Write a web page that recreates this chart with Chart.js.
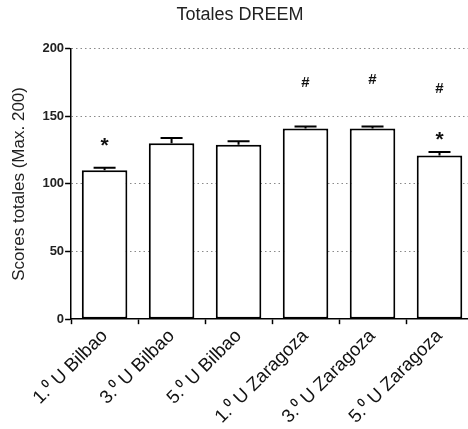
<!DOCTYPE html>
<html>
<head>
<meta charset="utf-8">
<script src="https://cdn.jsdelivr.net/npm/chart.js@4.4.1/dist/chart.umd.min.js"></script>
<style>
  html, body { margin: 0; padding: 0; background: #fff; overflow: hidden; }
  #wrap { width: 476px; height: 429px; }
</style>
</head>
<body>
<div id="wrap"><canvas id="chart"></canvas></div>
<script>
// datos del gráfico
const categories = ['1.\u2070 U Bilbao', '3.\u2070 U Bilbao', '5.\u2070 U Bilbao',
  '1.\u2070 U Zaragoza', '3.\u2070 U Zaragoza', '5.\u2070 U Zaragoza'];
const totals = [110, 130, 129, 141, 141, 121];
const errors = [2, 4, 2.5, 1.5, 1.5, 2.5];
const yTicks = [0, 50, 100, 150, 200];

// marcas de significación (* y #)
const markIndex = [0, 3, 4, 5, 5];
const markText = ['*', '#', '#', '#', '*'];
const markValue = [131, 175, 177, 170, 135];

// barras de error (solo la parte superior)
const errorBars = {
  id: 'errorBars',
  afterDatasetsDraw(chart) {
    const ctx = chart.ctx;
    const y = chart.scales.y;
    const meta = chart.getDatasetMeta(0);
    ctx.save();
    ctx.strokeStyle = '#000';
    ctx.lineWidth = 2;
    meta.data.forEach((bar, i) => {
      const top = y.getPixelForValue(totals[i] + errors[i]);
      ctx.beginPath();
      ctx.moveTo(bar.x, bar.y);
      ctx.lineTo(bar.x, top);
      ctx.moveTo(bar.x - 11, top);
      ctx.lineTo(bar.x + 11, top);
      ctx.stroke();
    });
    ctx.restore();
  }
};

const marks = {
  id: 'marks',
  afterDatasetsDraw(chart) {
    const ctx = chart.ctx;
    const x = chart.scales.x;
    const y = chart.scales.y;
    ctx.save();
    ctx.fillStyle = '#111';
    ctx.textAlign = 'center';
    ctx.textBaseline = 'middle';
    markText.forEach((t, k) => {
      ctx.font = t === '*' ? 'bold 21px Arial' : 'bold 15px Arial';
      const py = y.getPixelForValue(markValue[k]) + (t === '*' ? 4 : 0);
      ctx.fillText(t, x.getPixelForValue(markIndex[k]), py);
    });
    ctx.restore();
  }
};

const ctx = document.getElementById('chart').getContext('2d');
new Chart(ctx, {
  type: 'bar',
  data: {
    labels: categories,
    datasets: [{
      data: totals,
      backgroundColor: '#fff',
      borderColor: '#000',
      borderWidth: 2,
      borderSkipped: false,
      categoryPercentage: 1,
      barPercentage: 0.68
    }]
  },
  options: {
    responsive: true,
    maintainAspectRatio: false,
    animation: false,
    layout: { padding: { top: 2, right: 3, left: 7, bottom: 0 } },
    plugins: {
      legend: { display: false },
      tooltip: { enabled: false },
      title: {
        display: true,
        text: 'Totales DREEM',
        color: '#222',
        font: { family: 'Arial', size: 18, weight: 'normal' },
        padding: { top: 2, bottom: 23 }
      }
    },
    scales: {
      x: {
        offset: true,
        grid: { drawOnChartArea: false, tickLength: 5, tickColor: '#000', tickWidth: 1.5 },
        border: { color: '#000', width: 1.5 },
        ticks: {
          maxRotation: 45, minRotation: 45,
          color: '#111',
          padding: 1,
          font: { family: 'Arial', size: 18.5 }
        }
      },
      y: {
        min: 0, max: 200,
        afterBuildTicks: axis => { axis.ticks = yTicks.map(v => ({ value: v })); },
        grid: {
          color: c => (c.tick && c.tick.value === 0) ? 'rgba(0,0,0,0)' : '#8a8a8a',
          lineWidth: 1,
          tickLength: 6,
          tickColor: '#000',
          tickWidth: 1.5,
          tickBorderDash: []
        },
        border: { color: '#000', width: 1.5, dash: [1.5, 3] },
        ticks: {
          color: '#222',
          padding: 1,
          font: { family: 'Arial', size: 13, weight: 'bold' }
        },
        title: {
          display: true,
          text: 'Scores totales (Max. 200)',
          color: '#222',
          font: { family: 'Arial', size: 17 },
          padding: { top: 2, bottom: 12 }
        }
      }
    }
  },
  plugins: [errorBars, marks]
});
</script>
</body>
</html>
